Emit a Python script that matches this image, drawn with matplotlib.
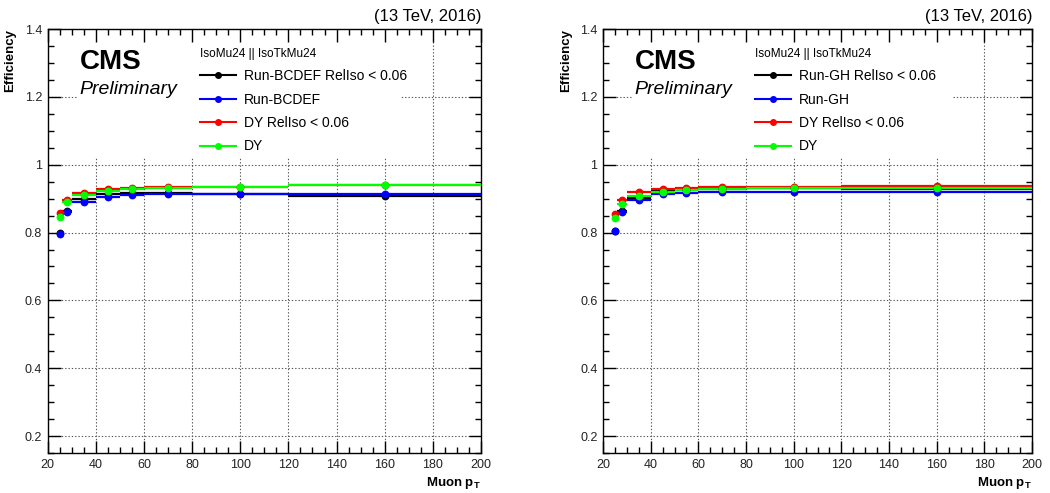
import matplotlib
matplotlib.use("Agg")
import matplotlib.pyplot as plt
import numpy as np
from matplotlib.patches import Rectangle
from matplotlib.ticker import MultipleLocator, FuncFormatter
from matplotlib.lines import Line2D

plt.rcParams['font.family'] = ['Liberation Sans', 'DejaVu Sans']
plt.rcParams['mathtext.fontset'] = 'custom'
plt.rcParams['mathtext.rm'] = 'Liberation Sans'
plt.rcParams['mathtext.bf'] = 'Liberation Sans:bold'

# ---- data ----
bin_edges = [24, 26, 30, 40, 50, 60, 80, 120, 200]

left_labels = ["Run-BCDEF RelIso < 0.06", "Run-BCDEF", "DY RelIso < 0.06", "DY"]
black_L = [0.799, 0.865, 0.898, 0.914, 0.917, 0.918, 0.915, 0.909]
blue_L = [0.796, 0.860, 0.891, 0.906, 0.911, 0.913, 0.913, 0.914]
red_L = [0.857, 0.896, 0.918, 0.928, 0.932, 0.935, 0.935, 0.939]
green_L = [0.847, 0.889, 0.911, 0.922, 0.928, 0.931, 0.934, 0.939]

right_labels = ["Run-GH RelIso < 0.06", "Run-GH", "DY RelIso < 0.06", "DY"]
black_R = [0.806, 0.865, 0.903, 0.922, 0.926, 0.929, 0.930, 0.927]
blue_R = [0.806, 0.862, 0.896, 0.913, 0.918, 0.920, 0.920, 0.920]
red_R = [0.855, 0.896, 0.919, 0.928, 0.932, 0.935, 0.935, 0.938]
green_R = [0.842, 0.884, 0.909, 0.919, 0.925, 0.928, 0.930, 0.930]

colors = ["#000000", "#0000ff", "#ff0000", "#00ff00"]
legend_title = "IsoMu24 || IsoTkMu24"
energy_label = "(13 TeV, 2016)"
x_ticks = [20, 40, 60, 80, 100, 120, 140, 160, 180, 200]
y_ticks = [0.2, 0.4, 0.6, 0.8, 1.0, 1.2, 1.4]

edges = np.array(bin_edges, dtype=float)
centers = 0.5 * (edges[:-1] + edges[1:])
halfw = 0.5 * (edges[1:] - edges[:-1])

fig = plt.figure(figsize=(10.5, 4.93), dpi=100)
axL = fig.add_axes([0.0454, 0.0811, 0.4127, 0.860])
axR = fig.add_axes([0.5743, 0.0811, 0.4086, 0.860])


def draw(ax, series, labels, leg_x):
    ax.set_xlim(20, 200)
    ax.set_ylim(0.15, 1.4)
    for xv in x_ticks[1:-1]:
        ax.axvline(xv, color="#555555", lw=0.8, ls=(0, (1.2, 1.8)), zorder=0.5)
    for yv in y_ticks[:-1]:
        ax.axhline(yv, color="#555555", lw=0.8, ls=(0, (1.2, 1.8)), zorder=0.5)
    ax.add_patch(Rectangle((0.069, 0.698), 0.744, 0.31, transform=ax.transAxes,
                           facecolor="white", edgecolor="none", zorder=1))
    handles = []
    for vals, c, lab in zip(series, colors, labels):
        ax.errorbar(centers, vals, xerr=halfw, fmt="o", color=c, ms=4.6,
                    elinewidth=1.6, capsize=0, zorder=3)
        handles.append(Line2D([0], [0], color=c, marker="o", ms=4, lw=1.5))
    leg = ax.legend(handles, labels, title=legend_title, loc="upper left",
                    bbox_to_anchor=(leg_x, 0.956), frameon=False, fontsize=10,
                    title_fontsize=8.5, labelspacing=0.68, handlelength=2.6,
                    handletextpad=0.6, borderpad=0, borderaxespad=0)
    leg._legend_box.align = "left"
    leg.set_zorder(4)
    ax.text(0.074, 0.952, "CMS", transform=ax.transAxes, fontsize=20,
            fontweight="bold", va="top", ha="left", zorder=4)
    ax.text(0.074, 0.878, "Preliminary", transform=ax.transAxes, fontsize=14,
            fontstyle="italic", va="top", ha="left", zorder=4)
    ax.text(1.0, 1.012, energy_label, transform=ax.transAxes, fontsize=12,
            ha="right", va="bottom")
    ax.set_xticks(x_ticks)
    ax.set_yticks(y_ticks)
    ax.xaxis.set_minor_locator(MultipleLocator(5))
    ax.yaxis.set_minor_locator(MultipleLocator(0.05))
    ax.yaxis.set_major_formatter(FuncFormatter(lambda v, p: "%g" % v))
    ax.tick_params(which="both", direction="in", top=True, right=True,
                   labelsize=9, labelcolor="#222222", pad=4)
    ax.tick_params(which="major", length=9, width=1)
    ax.tick_params(which="minor", length=4.3, width=1)
    for s in ax.spines.values():
        s.set_linewidth(1)
    ax.set_ylabel("Efficiency", fontsize=9.5, fontweight="bold", loc="top",
                  labelpad=6)
    ax.set_xlabel(r"Muon $\mathbf{p_{T}}$", fontsize=9.5, fontweight="bold",
                  loc="right", labelpad=3)


draw(axL, [black_L, blue_L, red_L, green_L], left_labels, 0.351)
draw(axR, [black_R, blue_R, red_R, green_R], right_labels, 0.354)

fig.savefig("out.png", dpi=100)
